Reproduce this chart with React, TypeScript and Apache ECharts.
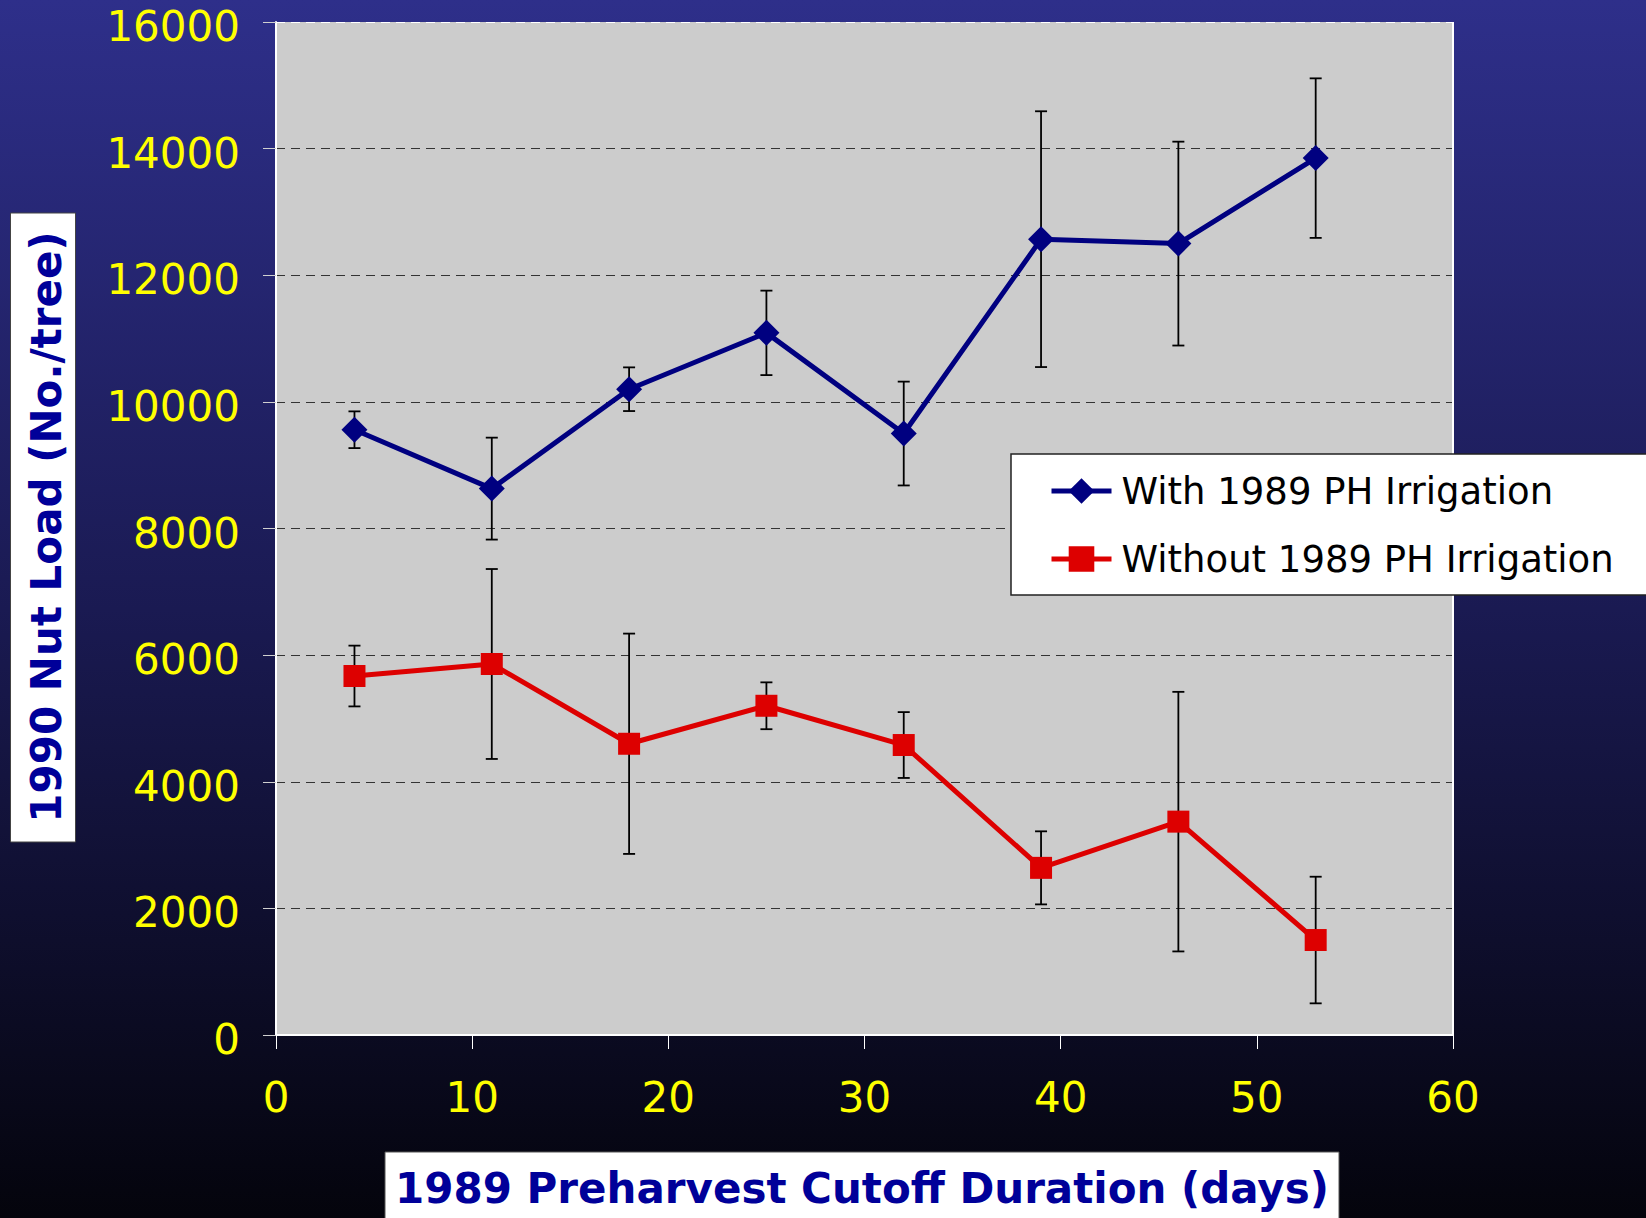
import React, { useEffect, useRef } from "react";
import * as echarts from "echarts";

const cutoffDays = [4, 11, 18, 25, 32, 39, 46, 53];
const withIrrigation = [9560, 8630, 10200, 11090, 9500, 12570, 12500, 13850];
const withIrrigationErr = [290, 805, 345, 667, 820, 2020, 1610, 1260];
const withoutIrrigation = [5670, 5860, 4600, 5200, 4580, 2640, 3370, 1500];
const withoutIrrigationErr = [480, 1500, 1740, 370, 520, 577, 2050, 1000];

const seriesNames = ["With 1989 PH Irrigation", "Without 1989 PH Irrigation"];
const yAxisTitle = "1990 Nut Load (No./tree)";
const xAxisTitle = "1989 Preharvest Cutoff Duration (days)";

const xMin = 0;
const xMax = 60;
const xStep = 10;
const yMin = 0;
const yMax = 16000;
const yStep = 2000;

const FONT = "DejaVu Sans";

function errorData(means: number[], errs: number[]) {
  return cutoffDays.map((x, i) => [x, means[i] - errs[i], means[i] + errs[i]]);
}

function errorSeries(means: number[], errs: number[]) {
  return {
    type: "custom",
    silent: true,
    z: 1,
    data: errorData(means, errs),
    encode: { x: 0, y: [1, 2] },
    renderItem: (params: any, api: any) => {
      const x = api.value(0);
      const lo = api.coord([x, api.value(1)]);
      const hi = api.coord([x, api.value(2)]);
      const cap = 6;
      const style = { stroke: "#000000", lineWidth: 1.8 };
      return {
        type: "group",
        children: [
          { type: "line", shape: { x1: lo[0], y1: lo[1], x2: hi[0], y2: hi[1] }, style },
          { type: "line", shape: { x1: hi[0] - cap, y1: hi[1], x2: hi[0] + cap, y2: hi[1] }, style },
          { type: "line", shape: { x1: lo[0] - cap, y1: lo[1], x2: lo[0] + cap, y2: lo[1] }, style },
        ],
      };
    },
  };
}

export default function App() {
  const ref = useRef<HTMLDivElement>(null);

  useEffect(() => {
    if (!ref.current) return;
    const chart = echarts.init(ref.current, null, { renderer: "svg" });
    const yLineCount = (yMax - yMin) / yStep + 1;
    const yLineColors = Array.from({ length: yLineCount }, (_, i) =>
      i === yLineCount - 1 ? "#ffffff" : "#333333"
    );
    const xLineCount = (xMax - xMin) / xStep + 1;
    const xLineColors = Array.from({ length: xLineCount }, (_, i) =>
      i === xLineCount - 1 ? "#ffffff" : "rgba(0,0,0,0)"
    );

    chart.setOption({
      animation: false,
      backgroundColor: {
        type: "linear",
        x: 0,
        y: 0,
        x2: 0,
        y2: 1,
        colorStops: [
          { offset: 0, color: "#2e2f8a" },
          { offset: 0.5, color: "#1a1a52" },
          { offset: 1, color: "#04040c" },
        ],
      },
      grid: {
        left: 276,
        top: 22,
        right: 193,
        bottom: 183,
        show: true,
        backgroundColor: "#cccccc",
        borderWidth: 0,
        outerBoundsMode: "none",
        containLabel: false,
      },
      xAxis: {
        type: "value",
        min: xMin,
        max: xMax,
        interval: xStep,
        axisLine: { show: true, onZero: false, lineStyle: { color: "#ffffff", width: 2 } },
        axisTick: { show: true, length: 14, lineStyle: { color: "#ffffff", width: 1 } },
        axisLabel: {
          color: "#ffff00",
          fontFamily: FONT,
          fontSize: 42,
          lineHeight: 42,
          margin: 41,
        },
        splitLine: { show: true, lineStyle: { color: xLineColors, width: 2 } },
      },
      yAxis: {
        type: "value",
        min: yMin,
        max: yMax,
        interval: yStep,
        axisLine: { show: true, onZero: false, lineStyle: { color: "#ffffff", width: 2 } },
        axisTick: { show: true, length: 13, lineStyle: { color: "#d0d0d0", width: 1 } },
        axisLabel: {
          margin: 36,
          formatter: (v: number) => `{v|${v}}`,
          rich: {
            v: {
              color: "#ffff00",
              fontFamily: FONT,
              fontSize: 42,
              lineHeight: 42,
              padding: [9, 0, 0, 0],
            },
          },
        },
        splitLine: {
          show: true,
          lineStyle: { color: yLineColors, width: 1, type: [9, 6] },
        },
      },
      legend: {
        orient: "vertical",
        left: 1011,
        top: 454,
        data: seriesNames,
        backgroundColor: "#ffffff",
        borderColor: "#222222",
        borderWidth: 1.5,
        padding: [17, 40, 16, 38],
        itemWidth: 60,
        itemHeight: 32,
        itemGap: 28,
        lineStyle: { width: 5 },
        textStyle: {
          color: "#000000",
          fontFamily: FONT,
          fontSize: 37,
          lineHeight: 40,
          padding: [0, 0, 0, 5],
        },
      },
      graphic: [
        {
          type: "rect",
          shape: { x: 10.5, y: 213, width: 65, height: 629 },
          style: { fill: "#ffffff", stroke: "#444444", lineWidth: 1 },
        },
        {
          type: "text",
          x: 46,
          y: 527,
          rotation: Math.PI / 2,
          style: {
            text: yAxisTitle,
            fill: "#000099",
            font: `bold 42px "${FONT}"`,
            textAlign: "center",
            textVerticalAlign: "middle",
          },
        },
        {
          type: "rect",
          shape: { x: 385, y: 1152, width: 954, height: 90 },
          style: { fill: "#ffffff", stroke: "#555555", lineWidth: 1 },
        },
        {
          type: "text",
          x: 862,
          y: 1188,
          style: {
            text: xAxisTitle,
            fill: "#000099",
            font: `bold 42px "${FONT}"`,
            textAlign: "center",
            textVerticalAlign: "middle",
          },
        },
      ],
      series: [
        errorSeries(withIrrigation, withIrrigationErr),
        errorSeries(withoutIrrigation, withoutIrrigationErr),
        {
          name: seriesNames[0],
          type: "line",
          z: 3,
          data: cutoffDays.map((x, i) => [x, withIrrigation[i]]),
          symbol: "diamond",
          symbolSize: 26,
          lineStyle: { color: "#000080", width: 5 },
          itemStyle: { color: "#000080" },
        },
        {
          name: seriesNames[1],
          type: "line",
          z: 3,
          data: cutoffDays.map((x, i) => [x, withoutIrrigation[i]]),
          symbol: "rect",
          symbolSize: 22,
          lineStyle: { color: "#dd0000", width: 5 },
          itemStyle: { color: "#dd0000" },
        },
      ],
    });
    return () => chart.dispose();
  }, []);

  return (
    <div
      ref={ref}
      style={{ position: "absolute", left: 0, top: 0, width: 1646, height: 1218 }}
    />
  );
}
